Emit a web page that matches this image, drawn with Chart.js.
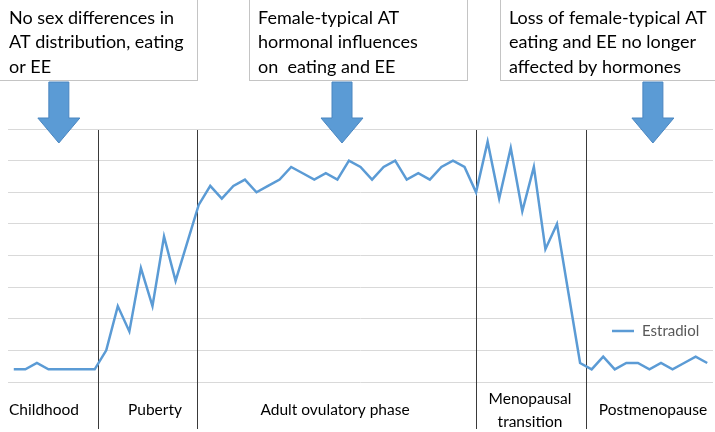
<!DOCTYPE html>
<html>
<head>
<meta charset="utf-8">
<script src="https://cdn.jsdelivr.net/npm/chart.js@4/dist/chart.umd.min.js"></script>
<style>
  html, body { margin: 0; padding: 0; background: #fff; }
</style>
</head>
<body>
<canvas id="estradiolChart" width="715" height="432"></canvas>
<script>
// estradiol level over the lifespan (arbitrary units)
const estradiol = [2, 2, 3, 2, 2, 2, 2, 2, 5, 12, 8, 18, 12, 23, 16, 22, 28, 31, 29, 31,
                   32, 30, 31, 32, 34, 33, 32, 33, 32, 35, 34, 32, 34, 35, 32, 33, 32, 34, 35, 34,
                   30, 38, 29, 37, 27, 34, 21, 25, 14, 3, 2, 4, 2, 3, 3, 2, 3, 2, 3, 4, 3];
const timepoints = estradiol.map((_, i) => i);
const yTicks = [0, 5, 10, 15, 20, 25, 30, 35, 40];

const stages = ['Childhood', 'Puberty', 'Adult ovulatory phase', ['Menopausal', 'transition'], 'Postmenopause'];
const stageBounds = [7.3, 15.85, 40, 49.5];   // in timepoint units
const notes = [
    ['No sex differences in', 'AT distribution, eating', 'or EE'],
    ['Female-typical AT', 'hormonal influences', 'on  eating and EE'],
    ['Loss of female-typical AT', 'eating and EE no longer', 'affected by hormones']
];
const noteArrowAt = [3.9, 28.4, 55.3];        // in timepoint units

const FONT = 'Lato, "Open Sans", sans-serif';

// dividers, boxes, arrows and phase names
const phasePlugin = {
    id: 'phases',
    beforeDatasetsDraw(chart) {
        const ctx = chart.ctx, x = chart.scales.x;
        ctx.save();
        ctx.strokeStyle = '#3a3a3a';
        ctx.lineWidth = 1;
        stageBounds.forEach(b => {
            const px = Math.round(x.getPixelForValue(b)) + 0.5;
            ctx.beginPath();
            ctx.moveTo(px, 130);
            ctx.lineTo(px, 429);
            ctx.stroke();
        });
        ctx.restore();
    },
    afterDraw(chart) {
        const ctx = chart.ctx, x = chart.scales.x;
        ctx.save();

        // phase names under the axis
        const stageX = [44, 155, 335, 530, 653];
        ctx.fillStyle = '#000';
        ctx.font = '15.5px ' + FONT;
        ctx.textAlign = 'center';
        ctx.textBaseline = 'middle';
        stages.forEach((s, i) => {
            if (Array.isArray(s)) {
                ctx.fillText(s[0], stageX[i], 399);
                ctx.fillText(s[1], stageX[i], 422);
            } else {
                ctx.fillText(s, stageX[i], 410);
            }
        });

        // note boxes
        const boxes = [[-1, 197], [249, 467], [500, 716]];
        ctx.textAlign = 'left';
        ctx.font = '18px ' + FONT;
        boxes.forEach((bx, i) => {
            ctx.fillStyle = '#fff';
            ctx.fillRect(bx[0], -1, bx[1] - bx[0], 81);
            ctx.strokeStyle = '#c4c4c4';
            ctx.lineWidth = 1;
            ctx.strokeRect(bx[0] + 0.5, -0.5, bx[1] - bx[0], 81);
            ctx.fillStyle = '#000';
            notes[i].forEach((line, j) => {
                ctx.fillText(line, bx[0] + 9 + (i === 0 ? 1 : 0), 18 + j * 24.5);
            });
        });

        // arrows
        noteArrowAt.forEach(a => {
            const cx = x.getPixelForValue(a);
            ctx.beginPath();
            ctx.moveTo(cx - 10, 82);
            ctx.lineTo(cx + 10, 82);
            ctx.lineTo(cx + 10, 118);
            ctx.lineTo(cx + 21, 118);
            ctx.lineTo(cx, 143);
            ctx.lineTo(cx - 21, 118);
            ctx.lineTo(cx - 10, 118);
            ctx.closePath();
            ctx.fillStyle = '#5b9bd5';
            ctx.fill();
            ctx.strokeStyle = '#4a86c0';
            ctx.lineWidth = 1;
            ctx.stroke();
        });

        // legend
        const ds = chart.data.datasets[0];
        ctx.strokeStyle = ds.borderColor;
        ctx.lineWidth = 2.5;
        ctx.beginPath();
        ctx.moveTo(612, 331);
        ctx.lineTo(634, 331);
        ctx.stroke();
        ctx.fillStyle = '#595959';
        ctx.font = '15px ' + FONT;
        ctx.textBaseline = 'middle';
        ctx.fillText(ds.label, 642, 331);

        ctx.restore();
    }
};

const ctxEstradiol = document.getElementById('estradiolChart').getContext('2d');
new Chart(ctxEstradiol, {
    type: 'line',
    data: {
        labels: timepoints,
        datasets: [{
            label: 'Estradiol',
            data: estradiol,
            borderColor: '#5b9bd5',
            borderWidth: 2.5,
            pointRadius: 0,
            tension: 0,
            fill: false
        }]
    },
    options: {
        responsive: false,
        animation: false,
        devicePixelRatio: 1,
        layout: { padding: { left: 8, right: 2, top: 129, bottom: 50 } },
        plugins: {
            legend: { display: false },
            tooltip: { enabled: false }
        },
        scales: {
            x: { display: false, offset: true },
            y: {
                min: yTicks[0],
                max: yTicks[yTicks.length - 1],
                afterBuildTicks: axis => { axis.ticks = yTicks.map(v => ({ value: v })); },
                ticks: { display: false },
                border: { display: false },
                grid: { color: '#d9d9d9', lineWidth: 1, drawTicks: false }
            }
        }
    },
    plugins: [phasePlugin]
});
</script>
</body>
</html>
